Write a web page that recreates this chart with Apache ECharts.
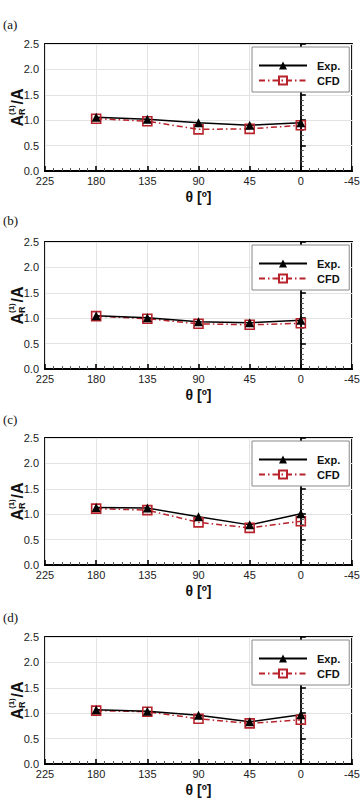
<!DOCTYPE html>
<html>
<head>
<meta charset="utf-8">
<script src="https://cdn.jsdelivr.net/npm/echarts@6/dist/echarts.min.js"></script>
<style>
  html, body { margin: 0; padding: 0; background: #fff; }
  #main { width: 364px; height: 805px; }
</style>
</head>
<body>
<div id="main"></div>
<script>
// angle positions (deg) and ratios
const theta = [180, 135, 90, 45, 0];
const expA = [1.06, 1.02, 0.95, 0.90, 0.95];
const cfdA = [1.03, 0.98, 0.82, 0.83, 0.90];
const expB = [1.05, 1.01, 0.93, 0.91, 0.96];
const cfdB = [1.04, 0.99, 0.89, 0.87, 0.90];
const expC = [1.13, 1.12, 0.95, 0.79, 1.01];
const cfdC = [1.11, 1.08, 0.84, 0.73, 0.86];
const expD = [1.07, 1.04, 0.96, 0.83, 0.97];
const cfdD = [1.05, 1.03, 0.89, 0.80, 0.87];
const panelLabels = ['(a)', '(b)', '(c)', '(d)'];
const legendNames = ['Exp.', 'CFD'];

const expSets = [expA, expB, expC, expD];
const cfdSets = [cfdA, cfdB, cfdC, cfdD];
const gridTops = [44, 242, 438, 637];
const labelTops = [25, 221, 420, 618];
const gridH = 127;
const red = '#b8232b';
const font = '"Liberation Sans", Arial, sans-serif';

const myChart = echarts.init(document.getElementById('main'), null, { renderer: 'svg' });

const grids = [], xAxes = [], yAxes = [], series = [], legends = [], graphics = [];

for (let i = 0; i < 4; i++) {
    grids.push({
        left: 45, right: 12, top: gridTops[i], height: gridH,
        show: true, borderColor: '#000', borderWidth: 1.8, backgroundColor: '#fff'
    });
    xAxes.push({
        gridIndex: i,
        type: 'value',
        min: -45, max: 225, interval: 45,
        inverse: true,
        name: 'θ [º]',
        nameLocation: 'middle',
        nameGap: 19,
        nameTextStyle: { fontFamily: font, fontWeight: 'bold', fontSize: 14, color: '#111' },
        axisLine: { lineStyle: { color: '#000', width: 1.8 } },
        axisTick: { inside: true, length: 5, lineStyle: { color: '#000', width: 1.6 } },
        minorTick: { show: true, splitNumber: 6, length: 3, lineStyle: { color: '#555' } },
        axisLabel: { margin: 4, fontFamily: font, fontSize: 11, color: '#222' },
        splitLine: { show: true, lineStyle: { color: '#e3e3e3', width: 1 } }
    });
    yAxes.push({
        gridIndex: i,
        type: 'value',
        min: 0, max: 2.5, interval: 0.5,
        axisLine: { show: true, lineStyle: { color: '#000', width: 1.8 } },
        axisTick: { show: true, inside: true, length: 5, lineStyle: { color: '#000', width: 1.6 } },
        minorTick: { show: true, splitNumber: 5, length: 3, lineStyle: { color: '#555' } },
        axisLabel: {
            margin: 6, fontFamily: font, fontSize: 11, color: '#222',
            formatter: v => v.toFixed(1)
        },
        splitLine: { show: true, lineStyle: { color: '#e3e3e3', width: 1 } }
    });
    series.push({
        name: 'CFD',
        type: 'line',
        xAxisIndex: i, yAxisIndex: i,
        data: theta.map((t, k) => [t, cfdSets[i][k]]),
        symbol: 'rect',
        symbolSize: 9,
        lineStyle: { color: red, width: 1.5, type: [6, 3, 1.5, 3] },
        itemStyle: { color: 'rgba(255,255,255,0)', borderColor: red, borderWidth: 1.6 },
        emphasis: { disabled: true },
        animation: false
    });
    series.push({
        name: 'Exp.',
        type: 'line',
        xAxisIndex: i, yAxisIndex: i,
        data: theta.map((t, k) => [t, expSets[i][k]]),
        symbol: 'triangle',
        symbolSize: 9,
        lineStyle: { color: '#000', width: 1.5 },
        itemStyle: { color: '#000' },
        emphasis: { disabled: true },
        animation: false
    });
    legends.push({
        data: legendNames,
        orient: 'vertical',
        left: 252,
        top: gridTops[i] + 3,
        padding: [13, 9, 6, 6],
        itemGap: 4,
        itemWidth: 48,
        itemHeight: 10,
        backgroundColor: '#fff',
        borderColor: '#888',
        borderWidth: 1,
        selectedMode: false,
        textStyle: { fontFamily: font, fontWeight: 'bold', fontSize: 11, color: '#111', padding: [0, 0, 0, 5] }
    });
    graphics.push({
        type: 'text',
        left: 3,
        top: labelTops[i] - 7,
        style: { text: panelLabels[i], font: '13px "Liberation Serif", "Times New Roman", serif', fill: '#111' }
    });
    const cy = gridTops[i] + gridH / 2;
    graphics.push({
        type: 'group',
        x: 17, y: cy + 19,
        rotation: Math.PI / 2,
        children: [
            { type: 'text', x: 0, y: 0, style: { text: 'A', font: 'bold 16px ' + font, fill: '#111', verticalAlign: 'middle' } },
            { type: 'text', x: 11.5, y: -6, style: { text: '(1)', font: 'bold 8px ' + font, fill: '#111', verticalAlign: 'middle' } },
            { type: 'text', x: 11.5, y: 5, style: { text: 'R', font: 'bold 9px ' + font, fill: '#111', verticalAlign: 'middle' } },
            { type: 'text', x: 22, y: 0, style: { text: '/A', font: 'bold 16px ' + font, fill: '#111', verticalAlign: 'middle' } }
        ]
    });
}

myChart.setOption({
    animation: false,
    grid: grids,
    xAxis: xAxes,
    yAxis: yAxes,
    legend: legends,
    series: series,
    graphic: graphics
});
</script>
</body>
</html>
